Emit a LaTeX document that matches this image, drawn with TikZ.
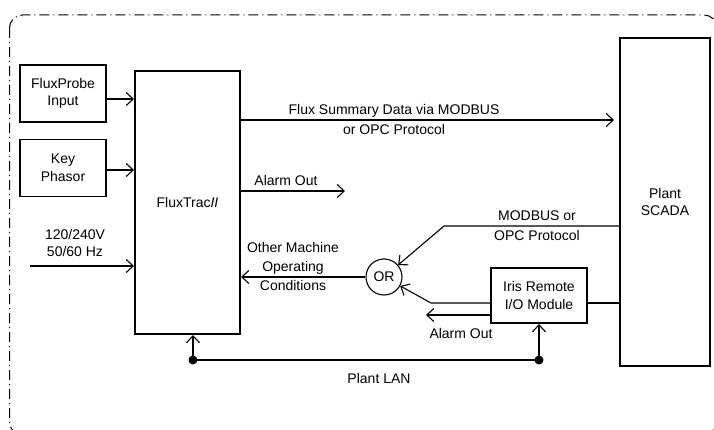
\documentclass[tikz,border=0pt]{standalone}
\usepackage{fontspec}
\setmainfont{Liberation Sans}
\usetikzlibrary{arrows.meta}
\begin{document}
\begin{tikzpicture}[x=1pt,y=-1pt,
  font=\fontsize{14}{17.5}\selectfont,
  thin/.style={line width=1.1pt},
  arr/.style={line width=1.1pt,-{Straight Barb[length=7pt,width=13pt,line width=1.1pt]}},
  lightbox/.style={draw,line width=1.4pt,inner sep=0pt,align=center},
  heavybox/.style={draw,line width=2pt,inner sep=0pt,align=center},
  lbl/.style={inner sep=0pt,align=center},
  border/.style={line width=1pt,dash pattern=on 10pt off 4pt on 1pt off 4pt,rounded corners=13pt}]
\useasboundingbox (0,0) rectangle (714,430);
\begin{scope}
  \clip (0,0) rectangle (714,430);
  \draw[border] (9.5,15) rectangle (717,435);
\end{scope}

% boxes
\node[lightbox,minimum width=86pt,minimum height=57pt] (probe) at (63,93.5) {FluxProbe\\Input};
\node[lightbox,minimum width=86pt,minimum height=57pt] (key) at (63,168) {Key\\Phasor};
\node[heavybox,minimum width=105pt,minimum height=263pt] (ftrac) at (187.5,202.5) {FluxTrac\textit{II}};
\node[heavybox,minimum width=90pt,minimum height=328pt] (scada) at (665,202) {Plant\\SCADA};
\node[heavybox,minimum width=96pt,minimum height=55pt] (iris) at (539,295.5) {Iris Remote\\I/O Module};
\node[draw,circle,thin,minimum size=36pt,inner sep=0pt] (or) at (384,277) {OR};

% inputs to FluxTrac
\draw[arr] (probe.east |- 0,99) -- (ftrac.west |- 0,99);
\draw[arr] (key.east |- 0,170) -- (ftrac.west |- 0,170);
\coordinate (pin) at (30,266);
\draw[arr] (pin) -- (ftrac.west |- pin);
\node[lbl] (pwrlbl) at (75,243) {120/240V\\50/60 Hz};

% flux summary
\draw[arr] (ftrac.east |- 0,120) -- ([xshift=-5pt]scada.west |- 0,120);
\node[lbl] (fs1) at (394,111) {Flux Summary Data via MODBUS};
\node[lbl] (fs2) at (394,129.5) {or OPC Protocol};

% alarm out (upper)
\coordinate (ao) at (345,191);
\draw[arr] (ftrac.east |- ao) -- (ao);
\node[lbl] (aolbl) at (286,180) {Alarm Out};

% MODBUS from SCADA to OR
\coordinate (mb) at (444,226);
\draw[arr] (scada.west |- mb) -- (mb) -- (or);
\node[lbl] (mb1) at (537,216) {MODBUS or};
\node[lbl] (mb2) at (537,235) {OPC Protocol};

% OR to FluxTrac
\draw[arr] (or.west) -- (ftrac.east |- or.west);
\node[lbl,font=\fontsize{14}{19}\selectfont] (omlbl) at (293,266) {Other Machine\\Operating\\Conditions};

% Iris connections
\coordinate (ib) at (431,303);
\draw[arr] (iris.west |- ib) -- (ib) -- (or);
\draw[thin] (iris.east |- 0,303) -- (scada.west |- 0,303);
\coordinate (ia) at (426,315);
\draw[arr] (iris.west |- ia) -- (ia);
\node[lbl] (ialbl) at (461,333) {Alarm Out};

% Plant LAN
\coordinate (l1) at (193,360);
\coordinate (l2) at (539,360);
\draw[thin] (l1) -- (l2);
\draw[arr] (l1) -- (l1 |- ftrac.south);
\draw[arr] (l2) -- (iris.south);
\fill (l1) circle (4.5pt);
\fill (l2) circle (4.5pt);
\node[lbl] (lanlbl) at (379,378) {Plant LAN};
\end{tikzpicture}
\end{document}
